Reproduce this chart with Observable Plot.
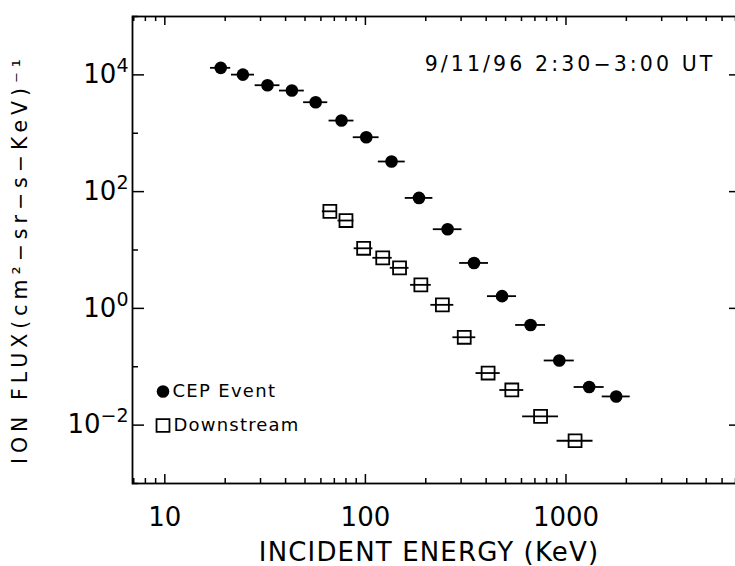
<!DOCTYPE html>
<html><head><meta charset="utf-8">
<script src="https://cdn.jsdelivr.net/npm/d3@7"></script>
<script src="https://cdn.jsdelivr.net/npm/@observablehq/plot@0.6"></script>
<style>body{margin:0;background:#fff}</style>
</head><body><div id="chart"></div>
<script>
// ---- data ----
const cepEnergy = [19, 24.5, 32.5, 43, 56.5, 76, 101, 135, 185, 257, 348, 480, 666, 926, 1305, 1780];
const cepLow    = [16.9, 21.5, 28.2, 37.3, 49.2, 65.9, 87.0, 116, 158, 218, 295, 406, 561, 779, 1098, 1516];
const cepHigh   = [21.3, 28.0, 37.5, 49.6, 64.9, 87.7, 117, 158, 217, 303, 411, 567, 791, 1100, 1550, 2090];
const cepFlux   = [13200, 10100, 6650, 5390, 3400, 1650, 855, 328, 78, 22.7, 6.0, 1.62, 0.52, 0.128, 0.045, 0.031];

const dsEnergy = [66.5, 80, 98, 122, 148, 189, 242, 311, 409, 537, 747, 1110];
const dsLow    = [61.0, 73.0, 87.9, 109, 133, 168, 212, 273, 356, 468, 608, 903];
const dsHigh   = [72.5, 87.7, 109, 136, 165, 213, 276, 355, 470, 616, 918, 1364];
const dsFlux   = [46, 32, 10.7, 7.35, 4.95, 2.53, 1.15, 0.32, 0.078, 0.040, 0.0141, 0.0054];

const xMajorTicks = [10, 100, 1000];
const xMinorTicks = [7, 8, 9, 20, 30, 40, 50, 60, 70, 80, 90, 200, 300, 400, 500, 600, 700, 800, 900, 2000, 3000, 4000, 5000, 6000, 7000];
const yMajorTicks = [1e-2, 1, 1e2, 1e4];
const yMinorTicks = [1e-3, 1e-1, 1e1, 1e3, 1e5];
const yTickExponents = ["−2", "0", "2", "4"];

const timeLabel = "9/11/96 2:30−3:00 UT";
const xTitle = "INCIDENT ENERGY (KeV)";
const yTitle = "ION FLUX(cm²−sr−s−KeV)⁻¹";
const legendLabels = ["CEP Event", "Downstream"];

const cep = cepEnergy.map((e, i) => ({e, lo: cepLow[i], hi: cepHigh[i], f: cepFlux[i]}));
const ds  = dsEnergy.map((e, i) => ({e, lo: dsLow[i], hi: dsHigh[i], f: dsFlux[i]}));

// ---- layout ----
const W = 735, H = 566;
const mL = 132, mT = 16, mB = 83, mR = -6;
const plotH = H - mT - mB;
const plotW = W - mL - mR;
const font = "DejaVu Sans";

const chart = Plot.plot({
  width: W, height: H,
  marginLeft: mL, marginTop: mT, marginBottom: mB, marginRight: mR,
  x: {type: "log", domain: [6.9, 7500]},
  y: {type: "log", domain: [1e-3, 1e5]},
  style: {fontFamily: font, color: "black", background: "white", overflow: "hidden"},
  marks: [
    Plot.frame({stroke: "black", strokeWidth: 1.8}),
    // inward ticks: bottom / top
    Plot.tickX(xMajorTicks, {x: d => d, insetTop: plotH - 9, stroke: "black", strokeWidth: 1.5}),
    Plot.tickX(xMinorTicks, {x: d => d, insetTop: plotH - 5, stroke: "black", strokeWidth: 1.5}),
    Plot.tickX(xMajorTicks, {x: d => d, insetBottom: plotH - 9, stroke: "black", strokeWidth: 1.5}),
    Plot.tickX(xMinorTicks, {x: d => d, insetBottom: plotH - 5, stroke: "black", strokeWidth: 1.5}),
    // inward ticks: left / right
    Plot.tickY(yMajorTicks, {y: d => d, insetRight: plotW - 12, stroke: "black", strokeWidth: 1.5}),
    Plot.tickY(yMinorTicks, {y: d => d, insetRight: plotW - 6, stroke: "black", strokeWidth: 1.5}),
    Plot.tickY(yMajorTicks, {y: d => d, insetLeft: plotW - 12, stroke: "black", strokeWidth: 1.5}),
    Plot.tickY(yMinorTicks, {y: d => d, insetLeft: plotW - 6, stroke: "black", strokeWidth: 1.5}),
    // axis tick labels
    Plot.axisX({ticks: xMajorTicks, tickSize: 0, tickPadding: 24, fontSize: 26, tickFormat: d => String(d), label: null}),
    Plot.axisY({ticks: yMajorTicks, tickSize: 0, tickPadding: 4, fontSize: 26,
      tickFormat: d => "10^" + yTickExponents[yMajorTicks.indexOf(d)], label: null}),
    // titles
    Plot.text([xTitle], {frameAnchor: "bottom", dx: -8, dy: 77, textAnchor: "middle", lineAnchor: "bottom", fontSize: 26}),
    Plot.text([yTitle], {frameAnchor: "left", rotate: -90, dx: -112, dy: 9, textAnchor: "middle", lineAnchor: "middle", fontSize: 20.5}),
    Plot.text([timeLabel], {frameAnchor: "top-right", textAnchor: "end", dx: -26, dy: 54, lineAnchor: "bottom", fontSize: 20.5}),
    // error bars
    Plot.ruleY(cep, {y: "f", x1: "lo", x2: "hi", stroke: "black", strokeWidth: 1.8}),
    Plot.ruleY(ds, {y: "f", x1: "lo", x2: "hi", stroke: "black", strokeWidth: 1.8}),
    // points
    Plot.dot(cep, {x: "e", y: "f", r: 6.3, fill: "black", stroke: "none"}),
    Plot.dot(ds, {x: "e", y: "f", r: 7.3, symbol: "square", fill: "none", stroke: "black", strokeWidth: 1.8}),
    // legend
    Plot.dot([legendLabels[0]], {frameAnchor: "bottom-left", dx: 30.5, dy: -92, r: 6.3, fill: "black", stroke: "none"}),
    Plot.dot([legendLabels[1]], {frameAnchor: "bottom-left", dx: 30.5, dy: -58, r: 7.3, symbol: "square", fill: "none", stroke: "black", strokeWidth: 1.8}),
    Plot.text([legendLabels[0]], {frameAnchor: "bottom-left", dx: 40, dy: -92, text: d => d, textAnchor: "start", lineAnchor: "middle", fontSize: 18}),
    Plot.text([legendLabels[1]], {frameAnchor: "bottom-left", dx: 41, dy: -58, text: d => d, textAnchor: "start", lineAnchor: "middle", fontSize: 18})
  ]
});

const ns = "http://www.w3.org/2000/svg";
// superscripts on y tick labels
chart.querySelectorAll('g[aria-label="y-axis tick label"] text').forEach(t => {
  const [base, exp] = t.textContent.split("^");
  while (t.firstChild) t.removeChild(t.firstChild);
  const a = document.createElementNS(ns, "tspan");
  a.textContent = base;
  const b = document.createElementNS(ns, "tspan");
  b.textContent = exp;
  b.setAttribute("font-size", "19");
  b.setAttribute("dy", "-11");
  t.appendChild(a); t.appendChild(b);
});

// letter spacing to mimic the wide plotter font
const spacing = new Map([[xTitle, 1.15], [yTitle, 5], [timeLabel, 3.1], [legendLabels[0], 1.3], [legendLabels[1], 1.2]]);
chart.querySelectorAll("text").forEach(t => {
  const s = spacing.get(t.textContent);
  if (s != null) t.setAttribute("letter-spacing", s);
});

document.getElementById("chart").appendChild(chart);
</script>
</body></html>
